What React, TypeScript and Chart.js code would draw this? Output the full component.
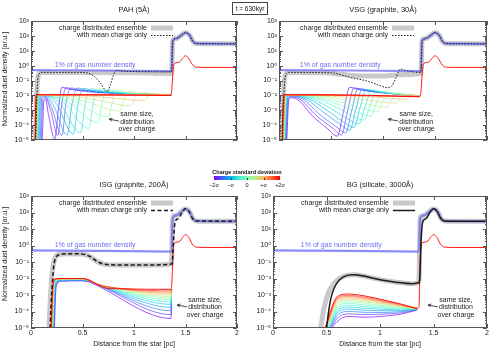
import React, { useEffect, useRef } from "react";
import { Chart, registerables } from "chart.js";

Chart.register(...registerables);

type P = [number, number];

const FONT = '"Liberation Sans", Arial, "DejaVu Sans", sans-serif';

// ---------- axes ----------
const X_TICKS = [0, 0.5, 1, 1.5, 2];
const Y_EXPONENTS = [-5, -4, -3, -2, -1, 0, 1, 2, 3];
const SIGMA_LABELS = ["\u22122\u03c3", "\u2212\u03c3", "0", "+\u03c3", "+2\u03c3"];

// ---------- shared profiles ----------
const GAS_1PCT: P[] = [[0, 0.5], [0.7, 0.47], [1.365, 0.43], [1.375, 40], [1.39, 62], [1.42, 70], [1.46, 110], [1.5, 165], [1.54, 110], [1.57, 45], [1.6, 31], [1.7, 30], [2, 29]];
const SHOCK_ENSEMBLE: P[] = [[1.375, 40], [1.39, 62], [1.42, 70], [1.46, 110], [1.5, 165], [1.54, 110], [1.57, 45], [1.6, 31], [1.7, 30], [2, 29]];
const SHOCK_MEAN_LATE: P[] = [[1.385, 3], [1.4, 28], [1.43, 42], [1.47, 110], [1.5, 170], [1.53, 125], [1.57, 42], [1.6, 31], [1.7, 30], [2, 29]];
const SHOCK_CHARGED: P[] = [[1.38, 0.6], [1.4, 1.5], [1.44, 1.7], [1.47, 3], [1.5, 4.6], [1.53, 3.2], [1.57, 1.1], [1.6, 0.8], [1.7, 0.76], [2, 0.75]];

// ---------- PAH (5Å) ----------
const PAH_ENSEMBLE: P[] = [[0.04, 1e-5], [0.05, 1e-3], [0.06, 0.05], [0.075, 0.25], [0.1, 0.35], [0.6, 0.35], [1.0, 0.33], [1.365, 0.3]];
const PAH_MEAN: P[] = [[0.045, 1e-5], [0.055, 2e-3], [0.065, 0.1], [0.08, 0.28], [0.1, 0.35], [0.5, 0.35], [0.56, 0.3], [0.61, 0.2], [0.67, 0.075], [0.74, 0.018], [0.77, 0.05], [0.8, 0.23], [0.83, 0.48], [0.9, 0.42], [1.365, 0.38]];
const PAH_RED: P[] = [[0.04, 1e-5], [0.044, 1e-3], [0.05, 1.1e-2], [0.6, 1.1e-2], [1.36, 1e-2], [1.37, 0.05]];
const PAH_CHARGE: P[][] = [
  [[0.11, 1e-5], [0.125, 4e-3], [0.14, 6e-3], [0.17, 5e-4], [0.23, 1.2e-5], [0.27, 2e-3], [0.3, 3.5e-2], [0.37, 2.6e-2], [1.36, 1e-2]],
  [[0.1, 1e-5], [0.115, 6e-3], [0.135, 8e-3], [0.19, 1e-3], [0.26, 2e-5], [0.3, 3e-3], [0.34, 3.3e-2], [0.42, 2.5e-2], [1.36, 1e-2]],
  [[0.09, 1e-5], [0.105, 7e-3], [0.13, 9e-3], [0.2, 1.5e-3], [0.3, 2e-5], [0.34, 3e-3], [0.39, 3.2e-2], [0.47, 2.4e-2], [1.36, 1e-2]],
  [[0.08, 1e-5], [0.095, 8e-3], [0.13, 1e-2], [0.22, 2e-3], [0.35, 2.2e-5], [0.4, 3e-3], [0.45, 3.1e-2], [0.53, 2.3e-2], [1.36, 1e-2]],
  [[0.072, 1e-5], [0.088, 9e-3], [0.13, 1e-2], [0.25, 2.5e-3], [0.41, 2.5e-5], [0.46, 3.5e-3], [0.51, 3e-2], [0.59, 2.2e-2], [1.36, 1e-2]],
  [[0.066, 1e-5], [0.082, 1e-2], [0.13, 1.05e-2], [0.28, 3e-3], [0.48, 3e-5], [0.53, 4e-3], [0.58, 2.9e-2], [0.66, 2.1e-2], [1.36, 1e-2]],
  [[0.062, 1e-5], [0.078, 1e-2], [0.14, 1.05e-2], [0.32, 3.2e-3], [0.56, 6e-5], [0.61, 5e-3], [0.66, 2.7e-2], [0.74, 2e-2], [1.36, 1e-2]],
  [[0.058, 1e-5], [0.074, 1e-2], [0.15, 1.05e-2], [0.36, 3.5e-3], [0.65, 1.5e-4], [0.7, 6e-3], [0.75, 2.5e-2], [0.83, 1.8e-2], [1.36, 1e-2]],
  [[0.055, 1e-5], [0.07, 1.05e-2], [0.16, 1.05e-2], [0.42, 4e-3], [0.75, 3.5e-4], [0.8, 7e-3], [0.85, 2.2e-2], [0.93, 1.6e-2], [1.36, 1e-2]],
  [[0.052, 1e-5], [0.067, 1.05e-2], [0.18, 1.1e-2], [0.5, 4.5e-3], [0.86, 9e-4], [0.91, 8e-3], [0.96, 1.8e-2], [1.04, 1.4e-2], [1.36, 1e-2]],
  [[0.05, 1e-5], [0.064, 1.1e-2], [0.2, 1.1e-2], [0.6, 5.5e-3], [0.97, 2e-3], [1.02, 9e-3], [1.07, 1.5e-2], [1.36, 1e-2]],
  [[0.048, 1e-5], [0.061, 1.1e-2], [0.25, 1.1e-2], [0.75, 7e-3], [1.1, 4.5e-3], [1.15, 1.1e-2], [1.2, 1.25e-2], [1.36, 1e-2]],
  [[0.046, 1e-5], [0.058, 1.1e-2], [1.36, 1e-2]],
  [[0.044, 1e-5], [0.055, 1.1e-2], [1.36, 1e-2]],
  [[0.042, 1e-5], [0.052, 1.1e-2], [1.36, 1e-2]],
];

// ---------- VSG (graphite, 30Å) ----------
const VSG_ENSEMBLE: P[] = [[0.025, 1e-5], [0.035, 1e-3], [0.05, 0.08], [0.07, 0.3], [0.1, 0.35], [0.45, 0.33], [0.6, 0.26], [0.8, 0.2], [1.0, 0.2], [1.2, 0.25], [1.365, 0.3]];
const VSG_MEAN: P[] = [[0.03, 1e-5], [0.04, 1e-3], [0.055, 0.1], [0.075, 0.3], [0.1, 0.35], [0.5, 0.33], [0.6, 0.24], [0.7, 0.15], [0.8, 0.11], [0.9, 0.07], [0.97, 0.045], [1.04, 0.033], [1.08, 0.04], [1.12, 0.13], [1.15, 0.4], [1.17, 0.6], [1.22, 0.47], [1.365, 0.35]];
const VSG_RED: P[] = [[0.03, 1e-5], [0.036, 1e-3], [0.048, 1.1e-2], [0.5, 1.1e-2], [1.0, 9.5e-3], [1.35, 8e-3], [1.36, 1e-2], [1.37, 0.05]];
const VSG_CHARGE: P[][] = [
  [[0.075, 1e-5], [0.095, 5e-3], [0.12, 7e-3], [0.2, 4e-3], [0.31, 5e-4], [0.47, 5.5e-5], [0.56, 1.8e-5], [0.62, 8e-4], [0.68, 3.5e-2], [0.76, 2.5e-2], [1.35, 9e-3]],
  [[0.07, 1e-5], [0.09, 6e-3], [0.12, 8e-3], [0.22, 4.5e-3], [0.35, 5e-4], [0.52, 6e-5], [0.6, 2.2e-5], [0.66, 9e-4], [0.72, 3.2e-2], [0.8, 2.3e-2], [1.35, 9e-3]],
  [[0.065, 1e-5], [0.085, 7e-3], [0.12, 9e-3], [0.24, 5e-3], [0.38, 6e-4], [0.56, 7e-5], [0.64, 3e-5], [0.7, 1e-3], [0.76, 3e-2], [0.84, 2.2e-2], [1.35, 9e-3]],
  [[0.06, 1e-5], [0.08, 8e-3], [0.12, 9.5e-3], [0.26, 5.5e-3], [0.42, 8e-4], [0.6, 1e-4], [0.68, 4.5e-5], [0.74, 1.2e-3], [0.8, 2.7e-2], [0.88, 2e-2], [1.35, 9e-3]],
  [[0.058, 1e-5], [0.078, 8.5e-3], [0.12, 1e-2], [0.28, 6e-3], [0.46, 1e-3], [0.64, 1.3e-4], [0.72, 7e-5], [0.78, 1.5e-3], [0.84, 2.5e-2], [0.92, 1.9e-2], [1.35, 9e-3]],
  [[0.055, 1e-5], [0.075, 9e-3], [0.12, 1e-2], [0.3, 6.5e-3], [0.5, 1.3e-3], [0.69, 2e-4], [0.77, 1.2e-4], [0.83, 2e-3], [0.89, 2.2e-2], [0.97, 1.7e-2], [1.35, 9e-3]],
  [[0.052, 1e-5], [0.072, 9e-3], [0.12, 1e-2], [0.33, 7e-3], [0.55, 1.6e-3], [0.74, 3.2e-4], [0.82, 2.2e-4], [0.88, 2.5e-3], [0.94, 2e-2], [1.02, 1.6e-2], [1.35, 9e-3]],
  [[0.05, 1e-5], [0.07, 9.5e-3], [0.12, 1.05e-2], [0.36, 7.5e-3], [0.6, 2e-3], [0.8, 5.5e-4], [0.88, 4e-4], [0.94, 3.5e-3], [1.0, 1.8e-2], [1.08, 1.4e-2], [1.35, 9e-3]],
  [[0.047, 1e-5], [0.067, 1e-2], [0.12, 1.05e-2], [0.4, 8e-3], [0.66, 2.6e-3], [0.87, 1e-3], [0.95, 8e-4], [1.0, 4.5e-3], [1.06, 1.6e-2], [1.14, 1.3e-2], [1.35, 9e-3]],
  [[0.045, 1e-5], [0.065, 1e-2], [0.12, 1.05e-2], [0.45, 8.5e-3], [0.74, 3.5e-3], [0.96, 1.8e-3], [1.03, 1.5e-3], [1.13, 1.4e-2], [1.2, 1.2e-2], [1.35, 9e-3]],
  [[0.042, 1e-5], [0.062, 1e-2], [0.12, 1.1e-2], [0.5, 9e-3], [0.84, 5e-3], [1.12, 3e-3], [1.2, 1.2e-2], [1.35, 9e-3]],
  [[0.04, 1e-5], [0.06, 1.05e-2], [0.15, 1.1e-2], [0.6, 9.5e-3], [1.0, 7e-3], [1.22, 5.5e-3], [1.28, 1.1e-2], [1.35, 9e-3]],
  [[0.038, 1e-5], [0.058, 1.05e-2], [1.35, 8.5e-3]],
  [[0.036, 1e-5], [0.055, 1.1e-2], [1.35, 8.5e-3]],
  [[0.034, 1e-5], [0.052, 1.1e-2], [1.35, 8.5e-3]],
];

// ---------- ISG (graphite, 200Å) ----------
const ISG_ENSEMBLE: P[] = [[0.175, 1e-5], [0.19, 1e-3], [0.21, 0.04], [0.235, 0.18], [0.27, 0.28], [0.35, 0.32], [0.5, 0.3], [0.57, 0.22], [0.65, 0.1], [0.72, 0.072], [0.85, 0.066], [1.2, 0.065], [1.35, 0.072], [1.365, 0.08]];
const ISG_MEAN: P[] = [[0.185, 1e-5], [0.2, 1e-3], [0.22, 0.05], [0.245, 0.2], [0.28, 0.28], [0.35, 0.32], [0.5, 0.3], [0.57, 0.22], [0.65, 0.1], [0.72, 0.072], [0.85, 0.066], [1.2, 0.065], [1.35, 0.072], [1.37, 0.08]];
const ISG_RED: P[] = [[0.196, 1e-5], [0.205, 1e-3], [0.22, 6e-3], [0.25, 9.5e-3], [0.3, 1e-2], [0.5, 1e-2], [0.57, 7.5e-3], [0.64, 4.5e-3], [0.72, 2.7e-3], [0.85, 2.4e-3], [1.36, 2.2e-3], [1.37, 0.01]];
const ISG_CHARGE: P[][] = [
  [[0.228, 1e-5], [0.238, 1e-3], [0.252, 4.5e-3], [0.29, 6.8e-3], [0.48, 7.2e-3], [0.56, 6.3e-3], [0.63, 4e-3], [1.36, 3.8e-5], [1.365, 2.2e-3]],
  [[0.225, 1e-5], [0.235, 1e-3], [0.249, 5e-3], [0.29, 7.1e-3], [0.48, 7.5e-3], [0.56, 6.8e-3], [0.64, 4.2e-3], [0.68, 3.3e-3], [1.36, 6.5e-5], [1.365, 2.2e-3]],
  [[0.222, 1e-5], [0.232, 1e-3], [0.246, 5.5e-3], [0.29, 7.4e-3], [0.48, 7.9e-3], [0.56, 7.1e-3], [0.64, 4.3e-3], [0.7, 3e-3], [1.36, 1.1e-4], [1.365, 2.2e-3]],
  [[0.219, 1e-5], [0.229, 1e-3], [0.243, 6e-3], [0.29, 7.7e-3], [0.48, 8.2e-3], [0.56, 7.4e-3], [0.64, 4.4e-3], [0.72, 2.8e-3], [1.36, 1.8e-4], [1.365, 2.2e-3]],
  [[0.216, 1e-5], [0.226, 1e-3], [0.24, 6.5e-3], [0.29, 8e-3], [0.48, 8.5e-3], [0.56, 7.6e-3], [0.64, 4.5e-3], [0.74, 2.7e-3], [1.36, 2.7e-4], [1.365, 2.2e-3]],
  [[0.213, 1e-5], [0.223, 1e-3], [0.237, 7e-3], [0.29, 8.3e-3], [0.48, 8.8e-3], [0.56, 7.8e-3], [0.64, 4.5e-3], [0.76, 2.6e-3], [1.36, 3.8e-4], [1.365, 2.2e-3]],
  [[0.21, 1e-5], [0.22, 1e-3], [0.234, 7.3e-3], [0.29, 8.6e-3], [0.48, 9.1e-3], [0.56, 7.9e-3], [0.64, 4.6e-3], [0.78, 2.6e-3], [1.36, 5e-4], [1.365, 2.2e-3]],
  [[0.208, 1e-5], [0.218, 1e-3], [0.232, 7.6e-3], [0.29, 8.9e-3], [0.48, 9.3e-3], [0.56, 8e-3], [0.64, 4.6e-3], [0.8, 2.5e-3], [1.36, 6.5e-4], [1.365, 2.2e-3]],
  [[0.206, 1e-5], [0.216, 1e-3], [0.23, 8e-3], [0.29, 9.1e-3], [0.48, 9.5e-3], [0.56, 8.1e-3], [0.64, 4.6e-3], [0.82, 2.5e-3], [1.36, 8e-4], [1.365, 2.2e-3]],
  [[0.204, 1e-5], [0.214, 1e-3], [0.228, 8.3e-3], [0.29, 9.3e-3], [0.48, 9.7e-3], [0.56, 8.2e-3], [0.64, 4.6e-3], [0.84, 2.5e-3], [1.36, 1e-3], [1.365, 2.2e-3]],
  [[0.202, 1e-5], [0.212, 1e-3], [0.226, 8.6e-3], [0.29, 9.5e-3], [0.48, 9.8e-3], [0.56, 8.2e-3], [0.64, 4.6e-3], [0.86, 2.4e-3], [1.36, 1.25e-3], [1.365, 2.2e-3]],
  [[0.2, 1e-5], [0.21, 1e-3], [0.224, 8.9e-3], [0.29, 9.7e-3], [0.48, 9.9e-3], [0.56, 8.3e-3], [0.64, 4.6e-3], [0.88, 2.4e-3], [1.36, 1.5e-3], [1.365, 2.2e-3]],
  [[0.198, 1e-5], [0.208, 1e-3], [0.222, 9.2e-3], [0.29, 9.9e-3], [0.48, 1e-2], [0.56, 8.3e-3], [0.64, 4.6e-3], [0.9, 2.4e-3], [1.36, 1.8e-3], [1.365, 2.2e-3]],
];

// ---------- BG (silicate, 3000Å) ----------
const BG_ENSEMBLE: P[] = [[0.445, 1e-5], [0.48, 2e-4], [0.52, 1.5e-3], [0.57, 5e-3], [0.62, 1e-2], [0.7, 1.6e-2], [0.76, 1.7e-2], [0.85, 1.4e-2], [1.0, 8.5e-3], [1.15, 6e-3], [1.3, 4.8e-3], [1.36, 5.5e-3], [1.365, 8e-3]];
const BG_MEAN: P[] = [[0.5, 1e-5], [0.52, 1e-4], [0.54, 6e-4], [0.57, 2.5e-3], [0.62, 8e-3], [0.7, 1.6e-2], [0.76, 1.7e-2], [0.85, 1.4e-2], [1.0, 8.5e-3], [1.15, 6e-3], [1.3, 4.8e-3], [1.36, 5.5e-3], [1.37, 8e-3]];
const BG_RED: P[] = [[0.486, 1e-5], [0.6, 7.9e-4], [0.7, 1.15e-3], [0.85, 8.9e-4], [1.0, 5.6e-4], [1.2, 2.8e-4], [1.35, 1.58e-4], [1.365, 2e-4], [1.372, 0.02]];
const BG_CHARGE: P[][] = [
  [[0.55, 1e-5], [0.6, 2.5e-5], [0.7, 5e-5], [0.85, 4.5e-5], [1.0, 5e-5], [1.2, 7e-5], [1.35, 1.26e-4]],
  [[0.542, 1e-5], [0.6, 3.8e-5], [0.7, 7.2e-5], [0.85, 6.5e-5], [1.0, 6.8e-5], [1.2, 8.3e-5], [1.35, 1.29e-4]],
  [[0.535, 1e-5], [0.6, 5.5e-5], [0.7, 1.02e-4], [0.85, 8.9e-5], [1.0, 8.7e-5], [1.2, 9.8e-5], [1.35, 1.32e-4]],
  [[0.529, 1e-5], [0.6, 7.9e-5], [0.7, 1.41e-4], [0.85, 1.2e-4], [1.0, 1.12e-4], [1.2, 1.12e-4], [1.35, 1.35e-4]],
  [[0.523, 1e-5], [0.6, 1.07e-4], [0.7, 1.86e-4], [0.85, 1.58e-4], [1.0, 1.38e-4], [1.2, 1.26e-4], [1.35, 1.38e-4]],
  [[0.518, 1e-5], [0.6, 1.41e-4], [0.7, 2.4e-4], [0.85, 2e-4], [1.0, 1.66e-4], [1.2, 1.41e-4], [1.35, 1.41e-4]],
  [[0.513, 1e-5], [0.6, 1.86e-4], [0.7, 3.1e-4], [0.85, 2.5e-4], [1.0, 2.04e-4], [1.2, 1.58e-4], [1.35, 1.45e-4]],
  [[0.508, 1e-5], [0.6, 2.3e-4], [0.7, 3.8e-4], [0.85, 3.2e-4], [1.0, 2.4e-4], [1.2, 1.74e-4], [1.35, 1.45e-4]],
  [[0.504, 1e-5], [0.6, 3e-4], [0.7, 4.8e-4], [0.85, 3.9e-4], [1.0, 2.9e-4], [1.2, 1.9e-4], [1.35, 1.48e-4]],
  [[0.5, 1e-5], [0.6, 3.7e-4], [0.7, 5.8e-4], [0.85, 4.6e-4], [1.0, 3.3e-4], [1.2, 2.1e-4], [1.35, 1.51e-4]],
  [[0.496, 1e-5], [0.6, 4.6e-4], [0.7, 6.9e-4], [0.85, 5.5e-4], [1.0, 3.8e-4], [1.2, 2.2e-4], [1.35, 1.51e-4]],
  [[0.493, 1e-5], [0.6, 5.4e-4], [0.7, 8.1e-4], [0.85, 6.5e-4], [1.0, 4.3e-4], [1.2, 2.4e-4], [1.35, 1.55e-4]],
  [[0.49, 1e-5], [0.6, 6.5e-4], [0.7, 9.5e-4], [0.85, 7.4e-4], [1.0, 4.9e-4], [1.2, 2.6e-4], [1.35, 1.55e-4]],
];

// ---------- helpers ----------
function rainbow(t: number, a = 1): string {
  const r = Math.min(1, Math.abs(2 * t - 0.5));
  const g = Math.max(0, Math.sin(Math.PI * t));
  const b = Math.max(0, Math.cos((Math.PI * t) / 2));
  return `rgba(${Math.round(r * 255)},${Math.round(g * 255)},${Math.round(b * 255)},${a})`;
}

const SUP: Record<string, string> = { "-": "\u207b", "0": "\u2070", "1": "\u00b9", "2": "\u00b2", "3": "\u00b3", "4": "\u2074", "5": "\u2075", "6": "\u2076", "7": "\u2077", "8": "\u2078", "9": "\u2079" };
function powLabel(v: number): string {
  const e = Math.round(Math.log10(v));
  return "10" + String(e).split("").map((c) => SUP[c] || c).join("");
}

interface PanelCfg {
  key: string;
  title: string;
  left: number;
  top: number;
  w: number;
  h: number;
  yWidth: number;
  yTitle: boolean;
  xLabels: boolean;
  ensemble: P[];
  mean: P[];
  meanDash: number[];
  meanWidth: number;
  charge: P[][];
  red: P[];
  legendRight: number;
  gasLabelX: number;
  noteX: number;
  noteY: number;
}

const PANELS: PanelCfg[] = [
  {
    key: "pah", title: "PAH (5\u00c5)", left: 0, top: 0, w: 245, h: 170, yWidth: 31, yTitle: true, xLabels: false,
    ensemble: [...PAH_ENSEMBLE, ...SHOCK_ENSEMBLE], mean: [...PAH_MEAN, ...SHOCK_ENSEMBLE], meanDash: [1.5, 1.5], meanWidth: 1,
    charge: PAH_CHARGE, red: [...PAH_RED, ...SHOCK_CHARGED], legendRight: 116, gasLabelX: 0.23, noteX: 1.03, noteY: 5.5e-4,
  },
  {
    key: "vsg", title: "VSG (graphite, 30\u00c5)", left: 250, top: 0, w: 245, h: 170, yWidth: 29, yTitle: false, xLabels: false,
    ensemble: [...VSG_ENSEMBLE, ...SHOCK_ENSEMBLE], mean: [...VSG_MEAN, ...SHOCK_ENSEMBLE], meanDash: [1.5, 1.5], meanWidth: 1,
    charge: VSG_CHARGE, red: [...VSG_RED, ...SHOCK_CHARGED], legendRight: 109, gasLabelX: 0.2, noteX: 1.32, noteY: 5.5e-4,
  },
  {
    key: "isg", title: "ISG (graphite, 200\u00c5)", left: 0, top: 175, w: 245, h: 175, yWidth: 31, yTitle: true, xLabels: true,
    ensemble: [...ISG_ENSEMBLE, ...SHOCK_ENSEMBLE], mean: [...ISG_MEAN, ...SHOCK_MEAN_LATE], meanDash: [4, 2.5], meanWidth: 1.5,
    charge: ISG_CHARGE, red: [...ISG_RED, ...SHOCK_CHARGED], legendRight: 116, gasLabelX: 0.23, noteX: 1.69, noteY: 5e-4,
  },
  {
    key: "bg", title: "BG (silicate, 3000\u00c5)", left: 250, top: 175, w: 245, h: 175, yWidth: 23, yTitle: false, xLabels: true,
    ensemble: [...BG_ENSEMBLE, ...SHOCK_ENSEMBLE], mean: [...BG_MEAN, ...SHOCK_MEAN_LATE], meanDash: [], meanWidth: 1.5,
    charge: BG_CHARGE, red: [...BG_RED, ...SHOCK_CHARGED], legendRight: 116, gasLabelX: 0.26, noteX: 1.71, noteY: 5e-4,
  },
];

function lineDs(points: P[], color: string, width: number, dash: number[] = []) {
  return {
    data: points.map(([x, y]) => ({ x, y })),
    borderColor: color,
    borderWidth: width,
    borderDash: dash,
    pointRadius: 0,
    fill: false,
    cubicInterpolationMode: "monotone" as const,
    clip: 0,
  };
}

function decorPlugin(cfg: PanelCfg) {
  return {
    id: "decor_" + cfg.key,
    afterDatasetsDraw(chart: any) {
      const { ctx, chartArea: a, scales } = chart;
      const xs = scales.x;
      const ys = scales.y;
      ctx.save();
      // frame
      ctx.strokeStyle = "#555";
      ctx.lineWidth = 1;
      ctx.setLineDash([]);
      ctx.strokeRect(a.left + 0.5, a.top + 0.5, a.right - a.left - 1, a.bottom - a.top - 1);
      // ticks (inward, mirrored)
      ctx.beginPath();
      for (const v of X_TICKS) {
        const px = Math.round(xs.getPixelForValue(v)) + 0.5;
        ctx.moveTo(px, a.bottom);
        ctx.lineTo(px, a.bottom - 4);
        ctx.moveTo(px, a.top);
        ctx.lineTo(px, a.top + 4);
      }
      for (const e of Y_EXPONENTS) {
        const py = Math.round(ys.getPixelForValue(Math.pow(10, e))) + 0.5;
        ctx.moveTo(a.left, py);
        ctx.lineTo(a.left + 4, py);
        ctx.moveTo(a.right, py);
        ctx.lineTo(a.right - 4, py);
        if (e < 3) {
          for (let m = 2; m <= 9; m++) {
            const q = Math.round(ys.getPixelForValue(m * Math.pow(10, e))) + 0.5;
            ctx.moveTo(a.left, q);
            ctx.lineTo(a.left + 2, q);
            ctx.moveTo(a.right, q);
            ctx.lineTo(a.right - 2, q);
          }
        }
      }
      ctx.stroke();

      ctx.fillStyle = "#222";
      ctx.textBaseline = "middle";
      // title
      ctx.font = `7.5px ${FONT}`;
      ctx.textAlign = "center";
      ctx.fillText(cfg.title, (a.left + a.right) / 2, a.top - 11);
      // y title
      if (cfg.yTitle) {
        ctx.save();
        ctx.font = `7px ${FONT}`;
        ctx.translate(5.5, a.top + 58);
        ctx.rotate(-Math.PI / 2);
        ctx.textAlign = "center";
        ctx.fillText("Normalized dust density [ar.u.]", 0, 0);
        ctx.restore();
      }
      // legend
      ctx.font = `7px ${FONT}`;
      ctx.textAlign = "right";
      const lx = a.left + cfg.legendRight;
      const ly1 = a.top + 7;
      const ly2 = a.top + 14.5;
      ctx.fillText("charge distributed ensemble", lx, ly1);
      ctx.fillText("with mean charge only", lx, ly2);
      ctx.beginPath();
      ctx.strokeStyle = "#c9c9c9";
      ctx.lineWidth = 5;
      ctx.moveTo(lx + 4, ly1);
      ctx.lineTo(lx + 26, ly1);
      ctx.stroke();
      ctx.beginPath();
      ctx.strokeStyle = "#1a1a1a";
      ctx.lineWidth = cfg.meanWidth;
      ctx.setLineDash(cfg.meanDash);
      ctx.moveTo(lx + 4, ly2);
      ctx.lineTo(lx + 26, ly2);
      ctx.stroke();
      ctx.setLineDash([]);
      // gas label
      ctx.fillStyle = "#6b6bf2";
      ctx.textAlign = "left";
      ctx.fillText("1% of gas number density", xs.getPixelForValue(cfg.gasLabelX), ys.getPixelForValue(1.1));
      // note
      ctx.fillStyle = "#222";
      ctx.textAlign = "center";
      const nx = xs.getPixelForValue(cfg.noteX);
      const ny = ys.getPixelForValue(cfg.noteY);
      ctx.fillText("same size,", nx, ny);
      ctx.fillText("distribution", nx, ny + 7.5);
      ctx.fillText("over charge", nx, ny + 15);
      // arrow
      const x1 = nx - 18, y1 = ny + 7, x2 = nx - 28, y2 = ny + 5;
      ctx.strokeStyle = "#222";
      ctx.lineWidth = 0.8;
      ctx.beginPath();
      ctx.moveTo(x1, y1);
      ctx.lineTo(x2, y2);
      const ang = Math.atan2(y2 - y1, x2 - x1);
      ctx.moveTo(x2, y2);
      ctx.lineTo(x2 - 3.5 * Math.cos(ang - 0.45), y2 - 3.5 * Math.sin(ang - 0.45));
      ctx.moveTo(x2, y2);
      ctx.lineTo(x2 - 3.5 * Math.cos(ang + 0.45), y2 - 3.5 * Math.sin(ang + 0.45));
      ctx.stroke();
      ctx.restore();
    },
  };
}

function buildConfig(cfg: PanelCfg): any {
  const n = cfg.charge.length + 1;
  const datasets: any[] = [];
  datasets.push(lineDs(cfg.mean, "#1a1a1a", cfg.meanWidth, cfg.meanDash));
  datasets.push(lineDs(cfg.red, rainbow(1, 0.9), 1));
  for (let k = cfg.charge.length - 1; k >= 0; k--) {
    datasets.push(lineDs(cfg.charge[k], rainbow(k / (n - 1), 0.85), 0.8));
  }
  datasets.push(lineDs(GAS_1PCT, "rgba(112,112,250,0.8)", 2.2));
  datasets.push(lineDs(cfg.ensemble, "#c9c9c9", 5));

  return {
    type: "line",
    data: { datasets },
    options: {
      animation: false,
      responsive: false,
      events: [],
      layout: { padding: { left: 0, right: 8, top: 21, bottom: cfg.xLabels ? 0 : 8 } },
      plugins: { legend: { display: false }, tooltip: { enabled: false }, title: { display: false } },
      scales: {
        x: {
          type: "linear",
          min: 0,
          max: 2,
          display: cfg.xLabels,
          grid: { display: false, drawTicks: false },
          border: { display: false },
          ticks: {
            padding: 1,
            font: { size: 7, family: FONT },
            color: "#222",
            maxRotation: 0,
            autoSkip: false,
            callback: (v: number) => String(Math.round(v * 10) / 10),
          },
          afterBuildTicks: (s: any) => {
            s.ticks = X_TICKS.map((v) => ({ value: v }));
          },
          title: { display: true, text: "Distance from the star [pc]", font: { size: 7, family: FONT }, color: "#222", padding: { top: 0, bottom: 2 } },
          afterFit: (s: any) => {
            s.height = 22;
          },
        },
        y: {
          type: "logarithmic",
          min: 1e-5,
          max: 1e3,
          grid: { display: false, drawTicks: false },
          border: { display: false },
          ticks: { padding: 2, font: { size: 7, family: FONT }, color: "#222", autoSkip: false, callback: (v: number) => powLabel(v) },
          afterBuildTicks: (s: any) => {
            s.ticks = Y_EXPONENTS.map((e) => ({ value: Math.pow(10, e) }));
          },
          afterFit: (s: any) => {
            s.width = cfg.yWidth;
          },
        },
      },
    },
    plugins: [decorPlugin(cfg)],
  };
}

function Panel({ cfg }: { cfg: PanelCfg }) {
  const ref = useRef<HTMLCanvasElement | null>(null);
  useEffect(() => {
    if (!ref.current) return;
    const chart = new Chart(ref.current, buildConfig(cfg));
    return () => chart.destroy();
  }, [cfg]);
  return (
    <canvas
      ref={ref}
      width={cfg.w}
      height={cfg.h}
      style={{ position: "absolute", left: cfg.left, top: cfg.top, width: cfg.w, height: cfg.h }}
    />
  );
}

function ColorBar() {
  const stops = [0, 0.125, 0.25, 0.375, 0.5, 0.625, 0.75, 0.875, 1].map((t) => `${rainbow(t)} ${t * 100}%`).join(", ");
  const left = 214;
  const width = 66;
  return (
    <div>
      <div style={{ position: "absolute", left: left - 10, top: 169, width: width + 20, textAlign: "center", font: `bold 5.5px ${FONT}`, color: "#111", lineHeight: "7px" }}>
        Charge standard deviation
      </div>
      <div style={{ position: "absolute", left, top: 176, width, height: 4, background: `linear-gradient(to right, ${stops})` }} />
      {[0.25, 0.5, 0.75].map((f) => (
        <div key={f} style={{ position: "absolute", left: left + f * width, top: 178, width: 1, height: 2, background: "#333" }} />
      ))}
      {SIGMA_LABELS.map((s, i) => (
        <div key={s} style={{ position: "absolute", left: left + (i / 4) * width - 10, top: 181.5, width: 20, textAlign: "center", font: `5.5px ${FONT}`, color: "#111", lineHeight: "7px" }}>
          {s}
        </div>
      ))}
    </div>
  );
}

export default function App() {
  return (
    <div style={{ position: "absolute", left: 0, top: 0, width: 500, height: 350, background: "#fff", overflow: "hidden" }}>
      {PANELS.map((p) => (
        <Panel key={p.key} cfg={p} />
      ))}
      <div style={{ position: "absolute", left: 232, top: 2, width: 34, height: 11, border: "1px solid #444", font: `6.5px ${FONT}`, lineHeight: "11px", textAlign: "center", color: "#111" }}>
        t = 630kyr
      </div>
      <ColorBar />
    </div>
  );
}
